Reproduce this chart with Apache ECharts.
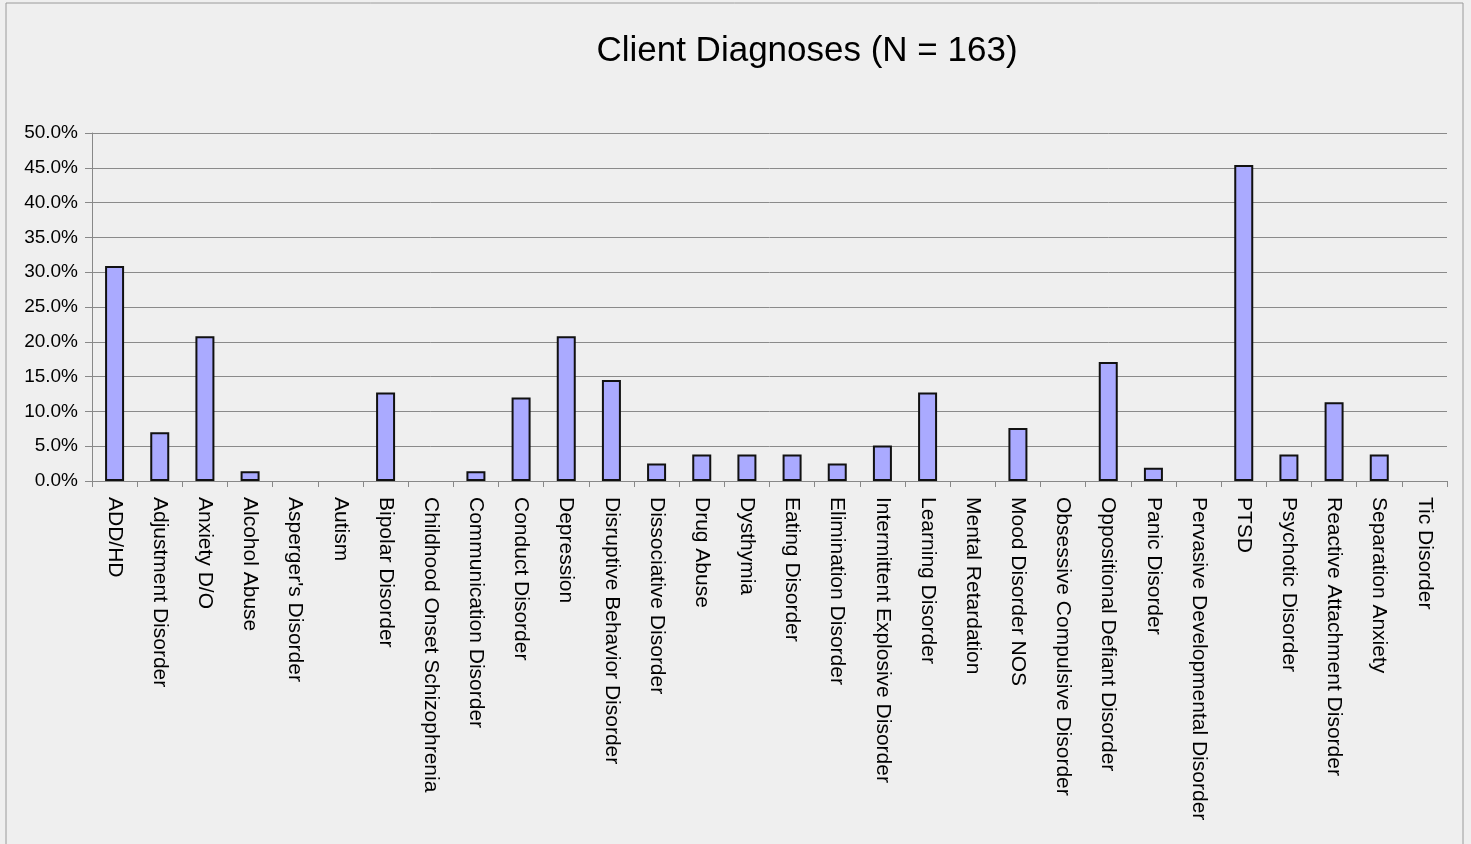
<!DOCTYPE html>
<html>
<head>
<meta charset="utf-8">
<script src="https://cdn.jsdelivr.net/npm/echarts@6/dist/echarts.min.js"></script>
<style>
  html, body { margin: 0; padding: 0; background: #efefef; }
  #chart { width: 1471px; height: 844px; }
</style>
</head>
<body>
<div id="chart"></div>
<script>
// categories and percentages
var diagnoses = ['ADD/HD', 'Adjustment Disorder', 'Anxiety D/O', 'Alcohol Abuse', "Asperger's Disorder",
  'Autism', 'Bipolar Disorder', 'Childhood Onset Schizophrenia', 'Communication Disorder', 'Conduct Disorder',
  'Depression', 'Disruptive Behavior Disorder', 'Dissociative Disorder', 'Drug Abuse', 'Dysthymia',
  'Eating Disorder', 'Elimination Disorder', 'Intermittent Explosive Disorder', 'Learning Disorder', 'Mental Retardation',
  'Mood Disorder NOS', 'Obsessive Compulsive Disorder', 'Oppositional Defiant Disorder', 'Panic Disorder', 'Pervasive Developmental Disorder',
  'PTSD', 'Psychotic Disorder', 'Reactive Attachment Disorder', 'Separation Anxiety', 'Tic Disorder'];
var percents = [30.9, 7.0, 20.8, 1.4, 0,
  0, 12.7, 0, 1.4, 12.0,
  20.8, 14.5, 2.5, 3.8, 3.8,
  3.8, 2.5, 5.1, 12.7, 0,
  7.6, 0, 17.1, 1.9, 0,
  45.4, 3.8, 11.3, 3.8, 0];
var yTicks = { min: 0, max: 50, step: 5 };

var chart = echarts.init(document.getElementById('chart'));
var font = '"Liberation Sans", Arial, sans-serif';

// zero bars get no outline, like the original
var barData = percents.map(function (v) {
  return v === 0 ? { value: v, itemStyle: { borderWidth: 0 } } : v;
});

chart.setOption({
  backgroundColor: '#efefef',
  animation: false,
  title: {
    text: 'Client Diagnoses (N = 163)',
    left: 802,
    top: 29,
    textAlign: 'center',
    textStyle: { fontFamily: font, fontSize: 35, fontWeight: 'normal', color: '#000' }
  },
  graphic: [{
    type: 'rect',
    shape: { x: 6, y: 3, width: 1457, height: 850 },
    style: { fill: 'none', stroke: '#9a9a9a', lineWidth: 1 },
    silent: true
  }],
  grid: { left: 92, right: 24, top: 133, bottom: 363 },
  xAxis: {
    type: 'category',
    data: diagnoses,
    axisLine: { lineStyle: { color: '#888', width: 1 } },
    axisTick: { show: true, length: 6, lineStyle: { color: '#888' } },
    axisLabel: {
      rotate: -90,
      interval: 0,
      margin: 16,
      fontFamily: font,
      fontSize: 21,
      color: '#000'
    }
  },
  yAxis: {
    type: 'value',
    min: yTicks.min,
    max: yTicks.max,
    interval: yTicks.step,
    axisLine: { show: true, lineStyle: { color: '#888' } },
    axisTick: { show: true, length: 7, lineStyle: { color: '#888' } },
    splitLine: { lineStyle: { color: '#8a8a8a', width: 1 } },
    axisLabel: {
      margin: 14,
      fontFamily: font,
      fontSize: 19,
      color: '#000',
      formatter: function (v) { return v.toFixed(1) + '%'; }
    }
  },
  series: [{
    type: 'bar',
    data: barData,
    barWidth: 19,
    itemStyle: { color: '#aaaaff', borderColor: '#111', borderWidth: 2 }
  }]
});
</script>
</body>
</html>
